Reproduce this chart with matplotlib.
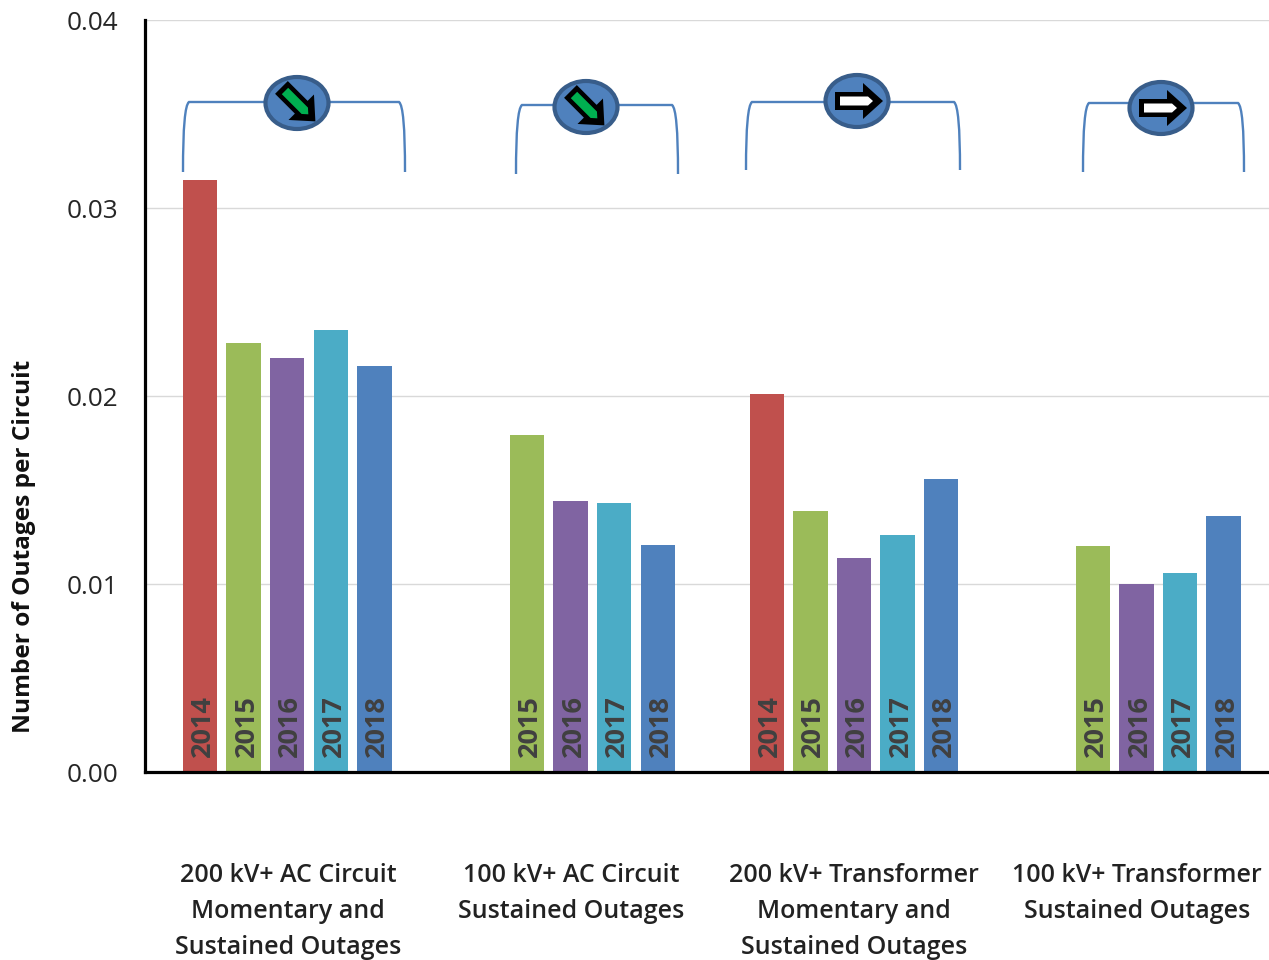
import matplotlib
matplotlib.use("Agg")
import matplotlib.pyplot as plt
from matplotlib.patches import Ellipse, PathPatch, Polygon
from matplotlib.path import Path
from matplotlib.transforms import Affine2D

plt.rcParams['font.family'] = ['Open Sans', 'DejaVu Sans']

# data
group_labels = ["200 kV+ AC Circuit\nMomentary and\nSustained Outages",
                "100 kV+ AC Circuit\nSustained Outages",
                "200 kV+ Transformer\nMomentary and\nSustained Outages",
                "100 kV+ Transformer\nSustained Outages"]
group_years = [[2014, 2015, 2016, 2017, 2018],
               [2015, 2016, 2017, 2018],
               [2014, 2015, 2016, 2017, 2018],
               [2015, 2016, 2017, 2018]]
group_values = [[0.0315, 0.0228, 0.0220, 0.0235, 0.0216],
                [0.0179, 0.0144, 0.0143, 0.0121],
                [0.0201, 0.0139, 0.0114, 0.0126, 0.0156],
                [0.0120, 0.0100, 0.0106, 0.0136]]
y_ticks = [0.00, 0.01, 0.02, 0.03, 0.04]
trend = ["down", "down", "flat", "flat"]

year_colors = {2014: "#C0504D", 2015: "#9BBB59", 2016: "#8064A2",
               2017: "#4BACC6", 2018: "#4F81BD"}

# layout, in slots (one slot = one bar + gap)
slot_px = 43.6
group_starts = [1.26, 8.76, 14.26, 21.74]
label_px = [288, 571, 854, 1137]
# x_left, x_right, y_top, y_bottom, badge x, badge y
brackets = [(183, 405, 102, 172, 297, 103),
            (516, 678, 105, 174, 586, 107),
            (746, 960, 102, 170, 857, 101),
            (1083, 1244, 103, 172, 1161, 108)]

fig = plt.figure(figsize=(12.69, 9.6), dpi=100)
ax = fig.add_axes([145 / 1269, 1 - 772 / 960, 1124 / 1269, 752 / 960])
ax.set_xlim(0, 1124 / slot_px)
ax.set_ylim(0, 0.04)

for start, years, values in zip(group_starts, group_years, group_values):
    xs = [start + i for i in range(len(years))]
    ax.bar(xs, values, width=0.79, color=[year_colors[y] for y in years], zorder=2)
    for x, year in zip(xs, years):
        ax.text(x + 0.07, 0.0008, str(year), rotation=90, ha="center", va="bottom",
                fontsize=19.5, fontweight="bold", color="#404040", zorder=3)

ax.set_yticks(y_ticks)
ax.set_yticklabels([f"{t:.2f}" for t in y_ticks], fontsize=18.8, color="#262626")
ax.set_xticks([])
ax.tick_params(axis="y", length=0, pad=19)
ax.grid(axis="y", color="#D9D9D9", linewidth=1)
ax.set_axisbelow(True)
for side in ["top", "right"]:
    ax.spines[side].set_visible(False)
for side in ["left", "bottom"]:
    ax.spines[side].set_linewidth(2.3)
    ax.spines[side].set_color("black")

# pixel coordinates from the top-left, for the hand placed shapes
px = Affine2D().scale(1, -1).translate(0, 960)

fig.text(24, 546, "Number of Outages per Circuit", transform=px, rotation=90,
         ha="center", va="center", fontsize=17.6, fontweight="bold", color="#111111")

for label, x in zip(group_labels, label_px):
    for i, line in enumerate(label.split("\n")):
        fig.text(x, 875 + i * 36, line, transform=px, ha="center", va="center",
                 fontsize=18, fontweight="semibold", color="#222222")


def draw_bracket(x0, x1, top, bottom):
    verts = [(x0, bottom), (x0, top + 25), (x0 + 2, top + 3), (x0 + 6, top),
             (x1 - 6, top), (x1 - 2, top + 3), (x1, top + 25), (x1, bottom)]
    codes = [Path.MOVETO, Path.CURVE4, Path.CURVE4, Path.CURVE4,
             Path.LINETO, Path.CURVE4, Path.CURVE4, Path.CURVE4]
    fig.add_artist(PathPatch(Path(verts, codes), transform=px, fill=False,
                             edgecolor="#4F81BD", linewidth=1.7))


def draw_badge(cx, cy, direction):
    fig.add_artist(Ellipse((cx, cy), 63, 52, transform=px, facecolor="#4F81BD",
                           edgecolor="#385D8A", linewidth=3, zorder=4))
    # arrow pointing right, centred on the badge: black body with a thin inner fill
    body = [(-22, -9), (6, -9), (6, -18), (26, 0), (6, 18), (6, 9), (-22, 9)]
    inner = [(-17, -4.5), (11, -4.5), (16, 0), (11, 4.5), (-17, 4.5)]
    fill = "#FFFFFF"
    rot = 0
    if direction == "down":
        fill = "#00B050"
        rot = 45
    t = Affine2D().rotate_deg(rot).translate(cx, cy) + px
    fig.add_artist(Polygon(body, closed=True, transform=t, facecolor="black",
                           edgecolor="none", zorder=5))
    fig.add_artist(Polygon(inner, closed=True, transform=t, facecolor=fill,
                           edgecolor="none", zorder=6))


for (x0, x1, top, bottom, bx, by), direction in zip(brackets, trend):
    draw_bracket(x0, x1, top, bottom)
    draw_badge(bx, by, direction)

fig.savefig("out.png", dpi=100)
